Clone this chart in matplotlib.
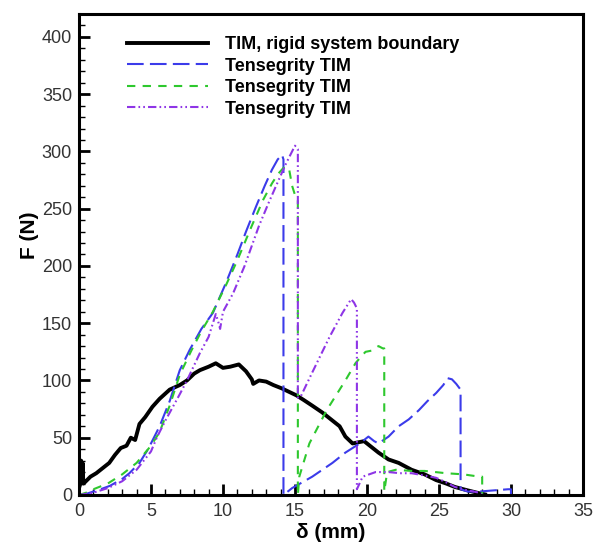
import numpy as np
import matplotlib.pyplot as plt
from matplotlib.ticker import MultipleLocator

plt.rcParams['font.family'] = ['Liberation Sans', 'DejaVu Sans']

# TIM with rigid system boundary
rigid_x = [0, 0.1, 0.15, 0.2, 0.25, 0.3, 0.4, 0.8, 1.2, 1.6, 2.1, 2.5, 2.9, 3.3, 3.6, 3.9,
           4.2, 4.6, 5.1, 5.6, 6.3, 7.0, 7.5, 8.0, 8.4, 9.0, 9.5, 10.0, 10.5, 11.1, 11.6,
           12.0, 12.1, 12.5, 13.0, 13.5, 14.1, 14.6, 15.1, 15.6, 16.2, 16.9, 17.5, 18.1,
           18.5, 19.0, 19.4, 19.8, 20.3, 20.8, 21.5, 22.2, 23.1, 24.0, 24.8, 25.5, 26.1,
           27.0, 27.8, 28.2]
rigid_y = [6, 10, 30, 12, 28, 10, 11, 16, 19, 23, 28, 35, 41, 43, 50, 48,
           62, 68, 77, 84, 92, 96, 100, 106, 109, 112, 115, 111, 112, 114, 108,
           101, 97, 100, 99, 96, 93, 90, 87, 83, 78, 72, 66, 60,
           51, 45, 46, 47, 42, 37, 31, 28, 22, 18, 13, 10, 7,
           4, 1.5, 0.5]

# Tensegrity TIM, test 1 (blue)
t1_x = [0, 0.5, 1, 1.5, 2.15, 3, 3.5, 4.2, 4.8, 5.6, 6.3, 7.0, 7.7, 8.5, 9.3, 10.2, 11.0,
        11.6, 12.3, 12.9, 13.4, 13.8, 14.1, 14.2, 14.2, 14.8, 15.5, 16.2, 16.9, 17.6,
        18.5, 19.5, 20.1, 20.5, 20.8, 21.5, 22.2, 22.9, 23.6, 24.2, 24.8, 25.3, 25.6,
        25.9, 26.2, 26.5, 26.5, 27.0, 27.8, 28.8, 29.8, 30.0, 30.0]
t1_y = [0, 1, 3, 5, 8, 14, 19, 28, 40, 60, 82, 109, 127, 145, 159, 185, 210,
        230, 252, 270, 284, 293, 297, 293, 0, 6, 11, 16, 22, 28,
        37, 45, 51, 47, 45, 51, 60, 66, 74, 82, 89, 96, 102,
        101, 97, 92, 5, 3, 3, 4, 5, 5, 0]

# Tensegrity TIM, test 2 (green)
t2_x = [0, 0.5, 1, 2, 3, 4, 5, 5.6, 6.3, 7.0, 7.8, 8.5, 9.3, 10.2, 11.0, 12.0, 12.8,
        13.4, 13.8, 14.3, 14.6, 14.8, 15.0, 15.2, 15.2, 15.3, 16.0, 17.2, 18.5, 19.2,
        19.6, 19.9, 20.3, 20.8, 21.1, 21.2, 21.2, 21.4, 22.0, 23.1, 24.0, 25.5, 26.7,
        27.8, 28.0, 28.0]
t2_y = [0, 2, 5, 10, 18, 28, 43, 55, 78, 105, 126, 143, 160, 183, 205, 235, 258,
        272, 280, 287, 284, 270, 262, 258, 0, 16, 45, 74, 100, 115,
        121, 125, 126, 130, 128, 128, 3, 20, 22, 21, 21, 19, 18,
        16, 16, 0]

# Tensegrity TIM, test 3 (purple)
t3_x = [0, 1, 2, 3, 4, 5, 5.4, 6, 7, 7.5, 8.4, 9.0, 9.5, 9.7, 9.8, 10.0, 10.7, 11.5,
        12.5, 13.2, 13.9, 14.4, 14.8, 15.0, 15.2, 15.2, 15.4, 16.2, 17.4, 18.3, 18.9,
        19.1, 19.3, 19.3, 19.7, 20.6, 21.5, 22.3, 23.1, 24.0, 24.8, 25.5, 26.1, 27.0,
        27.8, 28.0]
t3_y = [0, 2, 6, 12, 22, 38, 50, 65, 88, 100, 124, 138, 158, 150, 145, 160, 176, 200,
        235, 256, 276, 290, 300, 305, 302, 85, 86, 107, 138, 159, 171,
        168, 163, 5, 16, 20, 20, 19, 19, 17, 15, 11, 7, 4,
        2, 0]

labels = ['TIM, rigid system boundary', 'Tensegrity TIM', 'Tensegrity TIM', 'Tensegrity TIM']

fig = plt.figure(figsize=(5.97, 5.47), dpi=100)
ax = fig.add_axes([0.1323, 0.0951, 0.8442, 0.8793])

ax.plot(rigid_x, rigid_y, color='black', lw=2.8, label=labels[0])
ax.plot(t1_x, t1_y, color='#3b3bea', lw=1.5, dashes=(8, 3), label=labels[1])
ax.plot(t2_x, t2_y, color='#2ec82e', lw=1.5, dashes=(4, 3.5), label=labels[2])
ax.plot(t3_x, t3_y, color='#8e35e6', lw=1.5, dashes=(4, 1.5, 0.8, 1.5, 0.8, 1.5), label=labels[3])

ax.set_xlim(0, 35)
ax.set_ylim(0, 420)
ax.xaxis.set_major_locator(MultipleLocator(5))
ax.xaxis.set_minor_locator(MultipleLocator(1))
ax.yaxis.set_major_locator(MultipleLocator(50))
ax.yaxis.set_minor_locator(MultipleLocator(10))
ax.tick_params(which='both', direction='in', top=False, right=False,
               labelsize=13, labelcolor='#333333')
ax.tick_params(which='major', length=8, width=2)
ax.tick_params(which='minor', length=4, width=1)
ax.tick_params(axis='x', pad=6)
ax.tick_params(axis='y', pad=5)
for s in ax.spines.values():
    s.set_linewidth(2.2)

ax.set_xlabel('δ (mm)', fontsize=15, fontweight='bold', labelpad=2)
ax.set_ylabel('F (N)', fontsize=15, fontweight='bold')
ax.yaxis.set_label_coords(-0.08, 0.54)

leg = ax.legend(loc='upper left', bbox_to_anchor=(0.095, 0.954), frameon=False,
                borderpad=0, borderaxespad=0, handlelength=4.5, handletextpad=0.92,
                labelspacing=0.25, prop={'weight': 'bold', 'size': 13})

fig.savefig('out.png', dpi=100)
